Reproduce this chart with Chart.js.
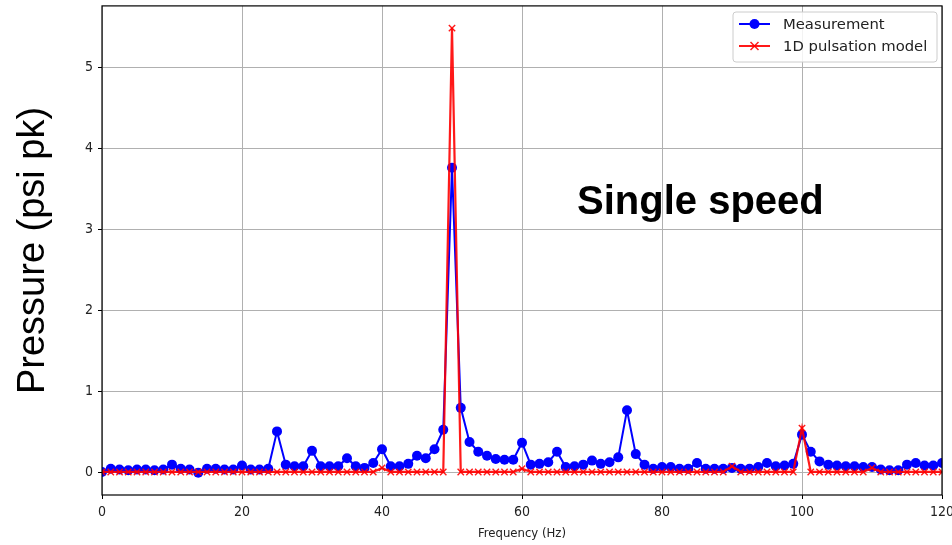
<!DOCTYPE html>
<html>
<head>
<meta charset="utf-8">
<script src="https://cdn.jsdelivr.net/npm/chart.js@4/dist/chart.umd.min.js"></script>
<style>
  body { margin: 0; background: #fff; }
  #wrap { width: 952px; height: 545px; }
</style>
</head>
<body>
<div id="wrap"><canvas id="myChart" width="952" height="545"></canvas></div>
<script>
// frequency bins (Hz)
var freqs = [0, 1.25, 2.5, 3.75, 5, 6.25, 7.5, 8.75, 10, 11.25, 12.5, 13.75, 15, 16.25, 17.5, 18.75,
    20, 21.25, 22.5, 23.75, 25, 26.25, 27.5, 28.75, 30, 31.25, 32.5, 33.75, 35, 36.25, 37.5, 38.75,
    40, 41.25, 42.5, 43.75, 45, 46.25, 47.5, 48.75, 50, 51.25, 52.5, 53.75, 55, 56.25, 57.5, 58.75,
    60, 61.25, 62.5, 63.75, 65, 66.25, 67.5, 68.75, 70, 71.25, 72.5, 73.75, 75, 76.25, 77.5, 78.75,
    80, 81.25, 82.5, 83.75, 85, 86.25, 87.5, 88.75, 90, 91.25, 92.5, 93.75, 95, 96.25, 97.5, 98.75,
    100, 101.25, 102.5, 103.75, 105, 106.25, 107.5, 108.75, 110, 111.25, 112.5, 113.75, 115, 116.25, 117.5, 118.75,
    120];

// measured pressure (psi pk)
var measurement = [0.01, 0.05, 0.04, 0.03, 0.04, 0.04, 0.03, 0.04, 0.10, 0.05,
    0.04, 0.00, 0.05, 0.05, 0.04, 0.04, 0.09, 0.04, 0.04, 0.05,
    0.51, 0.10, 0.08, 0.08, 0.27, 0.08, 0.08, 0.08, 0.18, 0.08,
    0.06, 0.12, 0.29, 0.08, 0.08, 0.11, 0.21, 0.18, 0.29, 0.53,
    3.76, 0.80, 0.38, 0.26, 0.21, 0.17, 0.16, 0.16, 0.37, 0.10,
    0.11, 0.13, 0.26, 0.07, 0.08, 0.10, 0.15, 0.11, 0.13, 0.19,
    0.77, 0.23, 0.10, 0.05, 0.07, 0.07, 0.05, 0.05, 0.12, 0.05,
    0.05, 0.05, 0.06, 0.05, 0.05, 0.07, 0.12, 0.08, 0.09, 0.11,
    0.47, 0.26, 0.14, 0.10, 0.09, 0.08, 0.08, 0.07, 0.07, 0.04,
    0.03, 0.03, 0.10, 0.12, 0.09, 0.09, 0.12];

// 1D pulsation model (psi pk)
var model = [0.01, 0.01, 0.01, 0.01, 0.01, 0.01, 0.01, 0.01, 0.01, 0.01,
    0.01, 0.01, 0.01, 0.01, 0.01, 0.01, 0.01, 0.01, 0.01, 0.01,
    0.01, 0.01, 0.01, 0.01, 0.01, 0.01, 0.01, 0.01, 0.01, 0.01,
    0.01, 0.01, 0.06, 0.01, 0.01, 0.01, 0.01, 0.01, 0.01, 0.01,
    5.48, 0.01, 0.01, 0.01, 0.01, 0.01, 0.01, 0.01, 0.05, 0.01,
    0.01, 0.01, 0.01, 0.01, 0.01, 0.01, 0.01, 0.01, 0.01, 0.01,
    0.01, 0.01, 0.01, 0.01, 0.01, 0.01, 0.01, 0.01, 0.01, 0.01,
    0.01, 0.01, 0.08, 0.01, 0.01, 0.01, 0.01, 0.01, 0.01, 0.01,
    0.55, 0.01, 0.01, 0.01, 0.01, 0.01, 0.01, 0.01, 0.06, 0.01,
    0.01, 0.01, 0.01, 0.01, 0.01, 0.01, 0.01];

var yTicks = [0, 1, 2, 3, 4, 5];
var xTicks = [0, 20, 40, 60, 80, 100, 120];
var seriesNames = ["Measurement", "1D pulsation model"];

function toPoints(ys) {
    var pts = [];
    for (var i = 0; i < freqs.length; i++) pts.push({x: freqs[i], y: ys[i]});
    return pts;
}

var tickFont = {family: "'DejaVu Sans Condensed', 'DejaVu Sans'", size: 14};

// box around plot, the note and the legend
var extras = {
    id: 'extras',
    afterDraw: function(chart) {
        var ctx = chart.ctx, a = chart.chartArea;
        ctx.save();
        ctx.strokeStyle = '#000';
        ctx.lineWidth = 1.2;
        ctx.strokeRect(a.left, a.top, a.right - a.left, a.bottom - a.top);

        ctx.fillStyle = '#000';
        ctx.font = "bold 40px 'Liberation Sans', Arial";
        ctx.textBaseline = 'alphabetic';
        ctx.textAlign = 'left';
        ctx.fillText('Single speed', 577, 214);

        // legend
        var lx = 733, ly = 12, lw = 204, lh = 50;
        ctx.beginPath();
        ctx.roundRect(lx, ly, lw, lh, 3);
        ctx.fillStyle = 'rgba(255,255,255,0.85)';
        ctx.fill();
        ctx.strokeStyle = '#cccccc';
        ctx.lineWidth = 1;
        ctx.stroke();

        var rows = [24, 46];
        chart.data.datasets.forEach(function(ds, k) {
            var y = rows[k];
            ctx.strokeStyle = ds.borderColor;
            ctx.lineWidth = 2;
            ctx.beginPath();
            ctx.moveTo(739, y);
            ctx.lineTo(770, y);
            ctx.stroke();
            if (ds.pointStyle === 'circle') {
                ctx.fillStyle = ds.borderColor;
                ctx.beginPath();
                ctx.arc(754.5, y, 5, 0, Math.PI * 2);
                ctx.fill();
            } else {
                ctx.lineWidth = 1.5;
                ctx.beginPath();
                ctx.moveTo(750.5, y - 4); ctx.lineTo(758.5, y + 4);
                ctx.moveTo(750.5, y + 4); ctx.lineTo(758.5, y - 4);
                ctx.stroke();
            }
            ctx.fillStyle = '#222';
            ctx.font = "14.8px 'DejaVu Sans'";
            ctx.textBaseline = 'middle';
            ctx.fillText(ds.label, 783, y + 1);
        });
        ctx.restore();
    }
};

var ctx = document.getElementById("myChart").getContext('2d');
var myChart = new Chart(ctx, {
    type: 'line',
    data: {
        datasets: [{
            label: seriesNames[0],
            data: toPoints(measurement),
            borderColor: '#0000ff',
            backgroundColor: '#0000ff',
            borderWidth: 2,
            pointStyle: 'circle',
            pointRadius: 5,
            pointBorderWidth: 0,
            tension: 0,
            order: 2
        }, {
            label: seriesNames[1],
            data: toPoints(model),
            borderColor: 'rgba(255,0,0,0.9)',
            backgroundColor: 'rgba(255,160,160,0.6)',
            borderWidth: 2.2,
            pointStyle: 'crossRot',
            pointRadius: 4.5,
            pointBorderWidth: 1.4,
            tension: 0,
            order: 1
        }]
    },
    options: {
        responsive: false,
        animation: false,
        layout: {padding: {top: 4, right: 10, left: 0, bottom: 0}},
        plugins: {
            legend: {display: false},
            tooltip: {enabled: false}
        },
        scales: {
            x: {
                type: 'linear',
                min: 0,
                max: 120,
                afterBuildTicks: function(scale) {
                    scale.ticks = xTicks.map(function(v) { return {value: v}; });
                },
                afterFit: function(scale) {
                    scale.height = 50;
                    scale.paddingLeft = 0;
                    scale.paddingRight = 0;
                },
                grid: {color: '#b0b0b0', lineWidth: 1, tickColor: '#000', tickLength: 4},
                border: {display: false},
                ticks: {color: '#222', font: tickFont, padding: 5, maxRotation: 0},
                title: {
                    display: true,
                    text: 'Frequency (Hz)',
                    color: '#222',
                    font: {family: "'DejaVu Sans Condensed', 'DejaVu Sans'", size: 13},
                    padding: {top: 0, bottom: 4}
                }
            },
            y: {
                type: 'linear',
                min: -0.274,
                max: 5.754,
                afterBuildTicks: function(scale) {
                    scale.ticks = yTicks.map(function(v) { return {value: v}; });
                },
                afterFit: function(scale) {
                    scale.width = 102;
                    scale.paddingTop = 0;
                    scale.paddingBottom = 0;
                },
                grid: {color: '#b0b0b0', lineWidth: 1, tickColor: '#000', tickLength: 4},
                border: {display: false},
                ticks: {color: '#222', font: tickFont, padding: 5},
                title: {
                    display: true,
                    text: 'Pressure (psi pk)',
                    color: '#000',
                    font: {family: "'Liberation Sans', Arial", size: 38},
                    padding: {top: 11, bottom: 0}
                }
            }
        }
    },
    plugins: [extras]
});
</script>
</body>
</html>
